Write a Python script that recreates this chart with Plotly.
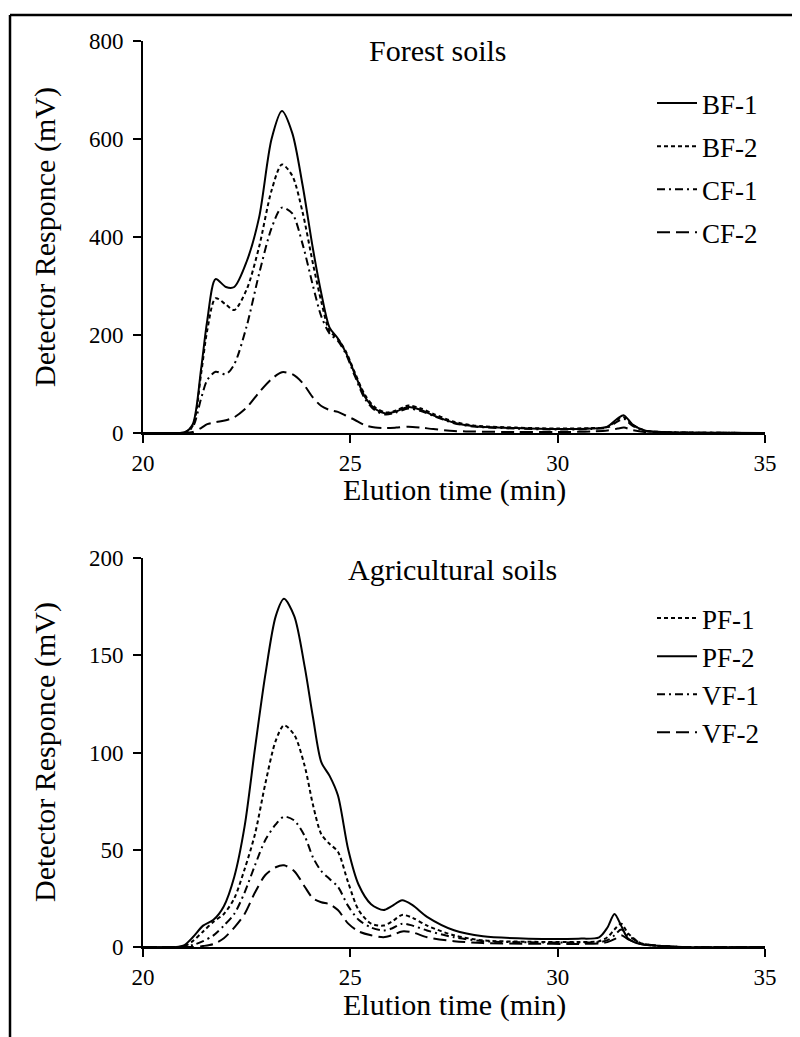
import plotly.graph_objects as go

# ---------------- data ----------------
t_forest = [20, 20.8, 21.0, 21.2, 21.4, 21.55, 21.75, 22.0, 22.2, 22.5, 22.8, 23.1, 23.35, 23.6,
            23.85, 24.1, 24.3, 24.5, 24.7, 24.9, 25.1, 25.35, 25.6, 25.85, 26.1, 26.4, 26.7, 27.0,
            27.5, 28.0, 29.0, 30.0, 30.8, 31.2, 31.45, 31.6, 31.8, 32.1, 32.5, 33.0, 35.0]
bf1 = [0, 0, 1, 18, 130, 230, 314, 298, 298, 350, 440, 600, 657, 612,
       505, 375, 285, 215, 193, 163, 122, 74, 49, 40, 44, 53, 47, 36,
       21, 14, 10, 8, 9, 13, 30, 36, 18, 5, 2, 1, 0]
bf2 = [0, 0, 1, 15, 120, 210, 275, 262, 251, 293, 380, 495, 548, 525,
       450, 345, 268, 208, 192, 165, 125, 78, 52, 42, 46, 56, 50, 39,
       23, 15, 11, 9, 10, 12, 28, 32, 17, 5, 2, 1, 0]
cf1 = [0, 0, 1, 12, 70, 108, 125, 120, 140, 218, 325, 418, 460, 448,
       385, 300, 238, 203, 188, 160, 118, 70, 46, 38, 42, 50, 45, 35,
       20, 13, 9, 7, 8, 11, 24, 29, 15, 4, 2, 1, 0]
cf2 = [0, 0, 0, 2, 10, 18, 22, 26, 32, 52, 83, 110, 124, 120,
       102, 72, 55, 47, 43, 35, 27, 16, 11, 10, 11, 13, 11, 8,
       4, 3, 2, 2, 3, 5, 9, 11, 6, 2, 1, 0, 0]

t_agri = [20, 20.8, 21.0, 21.2, 21.45, 21.7, 21.95, 22.2, 22.45, 22.7, 22.95, 23.2, 23.4, 23.65,
          23.9, 24.1, 24.3, 24.5, 24.7, 24.95, 25.2, 25.5, 25.8, 26.0, 26.25, 26.5, 26.85, 27.5,
          28.2, 29.3, 30.5, 31.0, 31.2, 31.37, 31.53, 31.7, 32.0, 32.5, 33.0, 35.0]
pf1 = [0, 0, 0.5, 3, 8, 13, 17, 25, 40, 58, 84, 106, 114, 109,
       93, 73, 58, 53, 49, 33, 19, 12, 11, 13, 16.5, 15, 11, 6,
       3.4, 2.7, 2.6, 3, 5, 9, 12, 7, 2, 0.5, 0, 0]
pf2 = [0, 0, 1, 5, 11, 14, 21, 36, 62, 102, 140, 170, 179, 170,
       144, 118, 95, 88, 78, 50, 32, 22, 19, 21, 24, 21.5, 15.5, 8.6,
       5.5, 4.3, 4.3, 5, 10, 17, 11, 4.3, 1.5, 0.5, 0, 0]
vf1 = [0, 0, 0, 1, 3, 6, 11, 17, 28, 42, 55, 63, 67, 65,
       57, 46, 39, 35, 31, 21, 14, 10, 8.5, 9.5, 12, 11, 8.5, 5,
       3, 2.4, 2.3, 2.5, 3.5, 6, 9, 6, 2, 0.5, 0, 0]
vf2 = [0, 0, 0, 0, 0.5, 1.5, 4.5, 10, 17, 28, 37, 41, 42, 39,
       31, 25, 23, 22, 19, 12, 8, 6, 5, 6, 8, 7.5, 5, 3,
       2, 1.7, 1.6, 1.8, 2.5, 4, 6, 4, 1.5, 0.5, 0, 0]

x_ticks = [20, 25, 30, 35]
y_ticks_forest = [0, 200, 400, 600, 800]
y_ticks_agri = [0, 50, 100, 150, 200]

# ---------------- styling ----------------
FONT = "Liberation Serif"
DASH = {"solid": "solid", "short": "4px,3px", "dashdot": "8px,4px,2px,4px", "long": "13px,6px"}

forest_series = [("BF-1", bf1, "solid"), ("BF-2", bf2, "short"),
                 ("CF-1", cf1, "dashdot"), ("CF-2", cf2, "long")]
agri_series = [("PF-1", pf1, "short"), ("PF-2", pf2, "solid"),
               ("VF-1", vf1, "dashdot"), ("VF-2", vf2, "long")]

fig = go.Figure()
for name, vals, d in forest_series:
    fig.add_trace(go.Scatter(x=t_forest, y=vals, name=name, mode="lines",
                             line=dict(color="black", width=2, dash=DASH[d], shape="spline", smoothing=0.8),
                             xaxis="x", yaxis="y", legend="legend", legendgroup=name))
for name, vals, d in agri_series:
    fig.add_trace(go.Scatter(x=t_agri, y=vals, name=name, mode="lines",
                             line=dict(color="black", width=2, dash=DASH[d], shape="spline", smoothing=0.8),
                             xaxis="x2", yaxis="y2", legend="legend2", legendgroup=name))

axis_common = dict(showline=True, linecolor="black", linewidth=2, ticks="outside",
                   ticklen=8, tickwidth=2, tickcolor="black", showgrid=False, zeroline=False,
                   tickfont=dict(family=FONT, size=23, color="black"))

# The page body adds an 8 px offset, so layout is computed from on-screen pixels.
OFF = 8
W, H = 800, 1037
PL, PR, PT, PB = 143, 765, 41, 947          # plot area on screen
L, R, T, B = PL - OFF, W - (PR - OFF), PT - OFF, H - (PB - OFF)
ph = H - T - B
pw = W - L - R
def py(s):  # on-screen pixel y -> paper y
    return (H - B - (s - OFF)) / ph
def px(s):  # on-screen pixel x -> paper x
    return ((s - OFF) - L) / pw

fig.update_layout(
    width=W, height=H, margin=dict(l=L, r=R, t=T, b=B),
    paper_bgcolor="white", plot_bgcolor="white", showlegend=True,
    xaxis=dict(domain=[0, 1], range=[20, 35], tickvals=x_ticks, anchor="y", **axis_common),
    yaxis=dict(domain=[py(433), 1], range=[0, 800], tickvals=y_ticks_forest, anchor="x",
               ticklabelstandoff=5, **axis_common),
    xaxis2=dict(domain=[0, 1], range=[20, 35], tickvals=x_ticks, anchor="y2", **axis_common),
    yaxis2=dict(domain=[0, py(558)], range=[0, 200], tickvals=y_ticks_agri, anchor="x2",
                ticklabelstandoff=5, **axis_common),
    legend=dict(x=px(652), y=py(79), xanchor="left", yanchor="top", bgcolor="rgba(0,0,0,0)",
                font=dict(family=FONT, size=27, color="black"), tracegroupgap=5, itemwidth=40),
    legend2=dict(x=px(652), y=py(594), xanchor="left", yanchor="top", bgcolor="rgba(0,0,0,0)",
                 font=dict(family=FONT, size=27, color="black"), tracegroupgap=0, itemwidth=40),
)

ann_font = dict(family=FONT, size=30, color="black")
anns = [
    dict(text="Forest soils", x=px(438), y=py(51)),
    dict(text="Agricultural soils", x=px(452), y=py(569)),
    dict(text="Elution time (min)", x=0.5, y=py(490)),
    dict(text="Elution time (min)", x=0.5, y=py(1005)),
    dict(text="Detector Responce (mV)", x=px(45), y=py(237), textangle=-90),
    dict(text="Detector Responce (mV)", x=px(45), y=py(752), textangle=-90),
]
for a in anns:
    fig.add_annotation(xref="paper", yref="paper", showarrow=False, xanchor="center",
                       yanchor="middle", font=ann_font, **a)

# outer frame of the figure (top and left edges are visible; the rest runs off the page)
frame = dict(color="black", width=2.5)
fig.add_shape(type="line", xref="paper", yref="paper", x0=px(10), x1=px(799), y0=py(15), y1=py(15),
              line=frame, layer="above")
fig.add_shape(type="line", xref="paper", yref="paper", x0=px(10), x1=px(10), y0=py(15), y1=py(1044),
              line=frame, layer="above")

fig.write_html("out.html")
